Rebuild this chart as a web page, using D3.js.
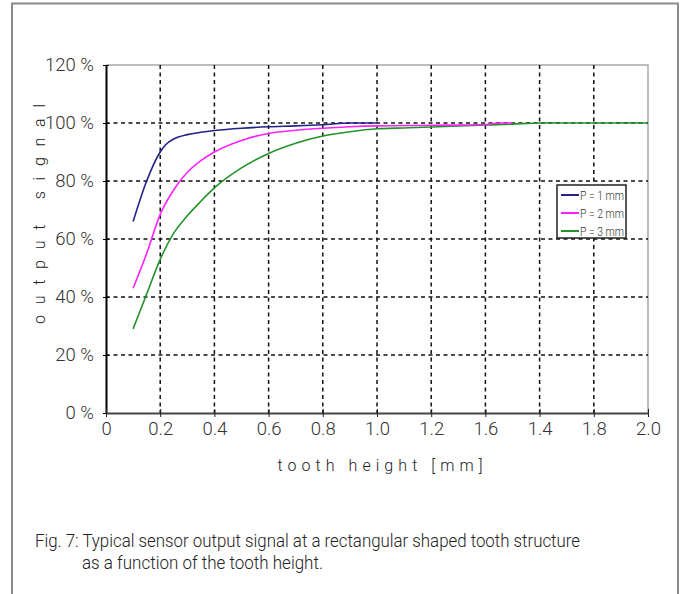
<!DOCTYPE html>
<html>
<head>
<meta charset="utf-8">
<script src="https://cdn.jsdelivr.net/npm/d3@7"></script>
<style>
  body { margin: 0; background: #fff; }
  svg { display: block; }
  .tick text { font-family: Roboto, "Liberation Sans", sans-serif; font-weight: 300; fill: #333; }
</style>
</head>
<body>
<div id="chart"></div>
<script>
// data
let yTicks = [0, 20, 40, 60, 80, 100, 120];
let xTicks = [0, 0.2, 0.4, 0.6, 0.8, 1.0, 1.2, 1.4, 1.6, 1.8, 2.0];
// the original figure has 1.6 and 1.4 swapped on the axis, kept as printed
let xTickLabels = ["0", "0.2", "0.4", "0.6", "0.8", "1.0", "1.2", "1.6", "1.4", "1.8", "2.0"];

let heightP1 = [0.1, 0.15, 0.2, 0.22, 0.25, 0.3, 0.35, 0.4, 0.5, 0.6, 0.7, 0.8, 0.9, 1.0];
let signalP1 = [66, 80, 90, 92.5, 94.5, 96, 96.8, 97.4, 98.2, 98.7, 99, 99.4, 100, 100];

let heightP2 = [0.1, 0.15, 0.2, 0.25, 0.3, 0.35, 0.4, 0.5, 0.6, 0.7, 0.8, 0.9, 1.0, 1.2, 1.4, 1.45, 1.5];
let signalP2 = [43, 55, 68.5, 77, 83, 87, 90, 94, 96.4, 97.5, 98.2, 98.7, 99, 99.2, 99.5, 100, 100];

let heightP3 = [0.1, 0.15, 0.2, 0.25, 0.3, 0.35, 0.4, 0.5, 0.6, 0.7, 0.8, 0.9, 1.0, 1.1, 1.2, 1.3, 1.4, 1.5, 1.6, 2.0];
let signalP3 = [29, 41, 53, 62, 68, 73, 77.6, 84.5, 89.5, 93, 95.5, 97, 98, 98.3, 98.6, 99, 99.3, 99.6, 100, 100];

let seriesNames = ["P = 1 mm", "P = 2 mm", "P = 3 mm"];
let seriesColors = ["#22228a", "#ff22ff", "#22932a"];

let W = 686, H = 594;
let plotLeft = 106, plotRight = 648, plotTop = 65, plotBottom = 413;

let svg = d3.select("#chart").append("svg")
  .attr("width", W)
  .attr("height", H);

// outer frame of the figure
svg.append("rect")
  .attr("x", 12).attr("y", 3.5)
  .attr("width", 666).attr("height", 620)
  .attr("fill", "none")
  .attr("stroke", "#8a8a8a")
  .attr("stroke-width", 2);

let xScale = d3.scaleLinear().domain([0, 2]).range([plotLeft, plotRight]);
let yScale = d3.scaleLinear().domain([0, 120]).range([plotBottom, plotTop]);

// plot border (top + right, light gray)
svg.append("path")
  .attr("d", "M" + plotLeft + "," + yScale(120) + "H" + xScale(2) + "V" + plotBottom)
  .attr("fill", "none")
  .attr("stroke", "#a8a8a8")
  .attr("stroke-width", 1.5);

// dashed grid
let grid = svg.append("g").attr("class", "grid");
grid.selectAll(".hgrid").data(yTicks.filter(d => d > 0 && d < 120))
  .enter().append("line")
    .attr("x1", plotLeft).attr("x2", plotRight)
    .attr("y1", d => yScale(d)).attr("y2", d => yScale(d))
    .attr("stroke", "#111").attr("stroke-width", 1.5)
    .attr("stroke-dasharray", "4,3.5");
grid.selectAll(".vgrid").data(xTicks.filter(d => d > 0 && d < 2))
  .enter().append("line")
    .attr("x1", d => xScale(d)).attr("x2", d => xScale(d))
    .attr("y1", plotTop).attr("y2", plotBottom)
    .attr("stroke", "#111").attr("stroke-width", 1.5)
    .attr("stroke-dasharray", "4,3.5");

// curves
let line = d3.line()
  .x(d => xScale(d[0]))
  .y(d => yScale(d[1]))
  .curve(d3.curveMonotoneX);

let allSeries = [
  d3.zip(heightP3, signalP3),
  d3.zip(heightP2, signalP2),
  d3.zip(heightP1, signalP1)
];
let drawColors = [seriesColors[2], seriesColors[1], seriesColors[0]];

svg.append("g").selectAll("path").data(allSeries)
  .enter().append("path")
    .attr("d", line)
    .attr("fill", "none")
    .attr("stroke", (d, i) => drawColors[i])
    .attr("stroke-width", 1.6);

// y axis
let yAxis = d3.axisLeft(yScale)
  .tickValues(yTicks)
  .tickFormat(d => d + " %")
  .tickSizeInner(3)
  .tickSizeOuter(0)
  .tickPadding(9);
let yAxisGroup = svg.append("g")
  .attr("transform", "translate(" + plotLeft + ",0)")
  .call(yAxis);
yAxisGroup.select(".domain").attr("stroke", "#000").attr("stroke-width", 2);
yAxisGroup.selectAll(".tick line").attr("stroke", "#000").attr("x2", 3).attr("x1", -3);
yAxisGroup.selectAll(".tick text").attr("font-size", 18.5);

// x axis
let xAxis = d3.axisBottom(xScale)
  .tickValues(xTicks)
  .tickFormat((d, i) => xTickLabels[i])
  .tickSizeInner(4)
  .tickSizeOuter(0)
  .tickPadding(5);
let xAxisGroup = svg.append("g")
  .attr("transform", "translate(0," + plotBottom + ")")
  .call(xAxis);
xAxisGroup.select(".domain").attr("stroke", "#444").attr("stroke-width", 2);
xAxisGroup.selectAll(".tick line").attr("stroke", "#222").attr("y1", -4).attr("y2", 4);
xAxisGroup.selectAll(".tick text").attr("font-size", 18.5);

// axis titles
svg.append("text")
  .attr("transform", "translate(45,214) rotate(-90)")
  .attr("text-anchor", "middle")
  .attr("font-family", "Roboto, sans-serif")
  .attr("font-weight", 300)
  .attr("font-size", 16)
  .attr("fill", "#222")
  .attr("textLength", 220)
  .attr("lengthAdjust", "spacing")
  .text("output signal");

svg.append("text")
  .attr("x", 380).attr("y", 471)
  .attr("text-anchor", "middle")
  .attr("font-family", "Roboto, sans-serif")
  .attr("font-weight", 300)
  .attr("font-size", 16)
  .attr("fill", "#222")
  .attr("textLength", 205)
  .attr("lengthAdjust", "spacing")
  .text("tooth height [mm]");

// legend
let legend = svg.append("g").attr("transform", "translate(557,185)");
legend.append("rect")
  .attr("width", 69).attr("height", 53)
  .attr("fill", "#fff")
  .attr("stroke", "#222")
  .attr("stroke-width", 1.5);
let items = legend.selectAll(".item").data(seriesNames)
  .enter().append("g")
    .attr("transform", (d, i) => "translate(0," + (10 + i * 18) + ")");
items.append("line")
  .attr("x1", 4).attr("x2", 22)
  .attr("stroke", (d, i) => seriesColors[i])
  .attr("stroke-width", 2);
items.append("text")
  .attr("x", 23).attr("y", 4.5)
  .attr("font-family", "Roboto, sans-serif")
  .attr("font-weight", 300)
  .attr("font-size", 13)
  .attr("fill", "#333")
  .attr("textLength", 44)
  .attr("lengthAdjust", "spacingAndGlyphs")
  .text(d => d);

// caption
svg.append("text")
  .attr("x", 35).attr("y", 547)
  .attr("font-family", "Roboto, sans-serif")
  .attr("font-weight", 300)
  .attr("font-size", 18.5)
  .attr("fill", "#222")
  .attr("textLength", 545)
  .attr("lengthAdjust", "spacingAndGlyphs")
  .text("Fig. 7: Typical sensor output signal at a rectangular shaped tooth structure");
svg.append("text")
  .attr("x", 82).attr("y", 569)
  .attr("font-family", "Roboto, sans-serif")
  .attr("font-weight", 300)
  .attr("font-size", 18.5)
  .attr("fill", "#222")
  .attr("textLength", 241)
  .attr("lengthAdjust", "spacingAndGlyphs")
  .text("as a function of the tooth height.");
</script>
</body>
</html>
